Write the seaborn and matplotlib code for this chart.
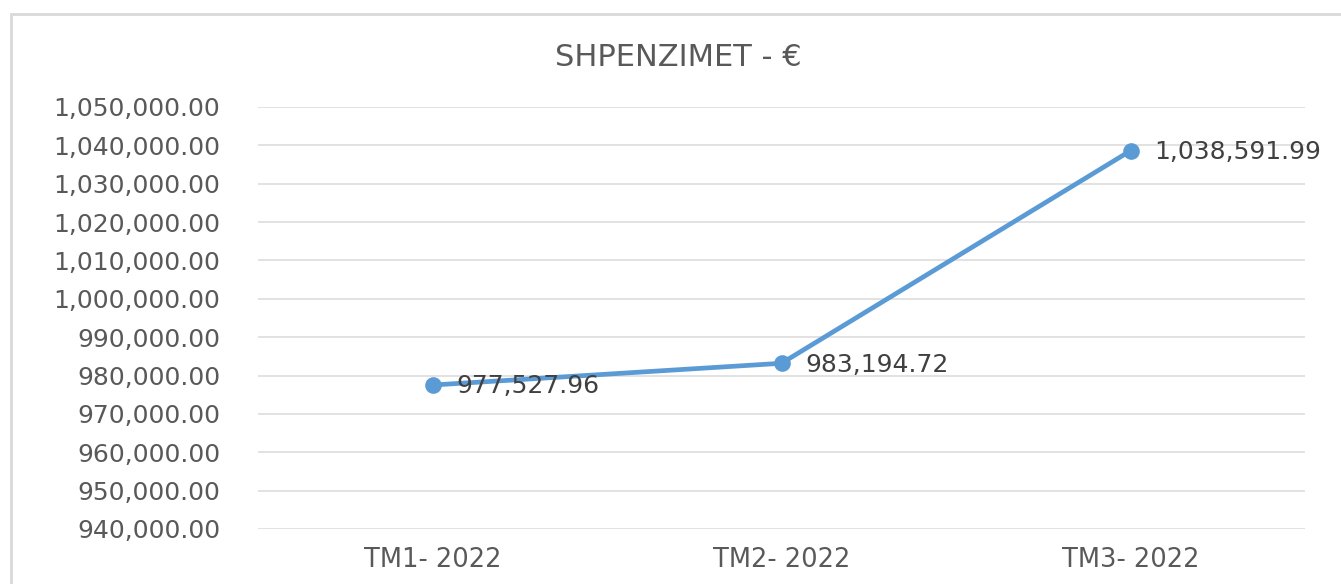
import numpy as np
import pandas as pd
import matplotlib
matplotlib.use('Agg')
import matplotlib.pyplot as plt
import seaborn as sns
from matplotlib.patches import Rectangle
from matplotlib.ticker import FuncFormatter

# Data
quarters = ['TM1- 2022', 'TM2- 2022', 'TM3- 2022']
expenses = [977527.96, 983194.72, 1038591.99]
y_ticks = list(range(940000, 1050001, 10000))

df = pd.DataFrame({'Tremujori': quarters, 'Shpenzimet': expenses})

sns.set_theme(style="white")
plt.rcParams['font.family'] = ['DejaVu Sans']

fig = plt.figure(figsize=(13.41, 5.84), dpi=100)
ax = fig.add_axes([258 / 1341, 1 - 529 / 584, (1305 - 258) / 1341, (529 - 107) / 584])

line_color = '#5B9BD5'
sns.lineplot(data=df, x='Tremujori', y='Shpenzimet', ax=ax, color=line_color,
             linewidth=3.4, marker='o', markersize=12, markeredgewidth=0, sort=False)

# Data labels
for i, v in enumerate(df['Shpenzimet']):
    ax.annotate(f'{v:,.2f}', xy=(i, v), xytext=(17, -1), textcoords='offset points',
                ha='left', va='center', fontsize=18, color='#404040')

ax.set_xlim(-0.5, 2.5)
ax.set_ylim(940000, 1050000)
ax.set_yticks(y_ticks)
ax.yaxis.set_major_formatter(FuncFormatter(lambda v, p: f'{v:,.2f}'))
ax.grid(axis='y', color='#DDDDDD', linewidth=1.2)
ax.grid(axis='x', visible=False)
for s in ax.spines.values():
    s.set_visible(False)
ax.tick_params(axis='y', length=0, pad=27, labelsize=18, labelcolor='#595959')
ax.tick_params(axis='x', length=0, pad=13, labelsize=18.5, labelcolor='#595959')
ax.set_xlabel('')
ax.set_ylabel('')

fig.text(678 / 1341, 1 - 57 / 584, 'SHPENZIMET - €', ha='center', va='center',
         fontsize=22, color='#595959')

# Chart border
fig.patches.append(Rectangle((11 / 1341, -0.1), 1.2, 1 - 14 / 584 + 0.1,
                             transform=fig.transFigure, fill=False,
                             edgecolor='#D9D9D9', linewidth=2))

fig.savefig('out.png', dpi=100)
plt.close(fig)
